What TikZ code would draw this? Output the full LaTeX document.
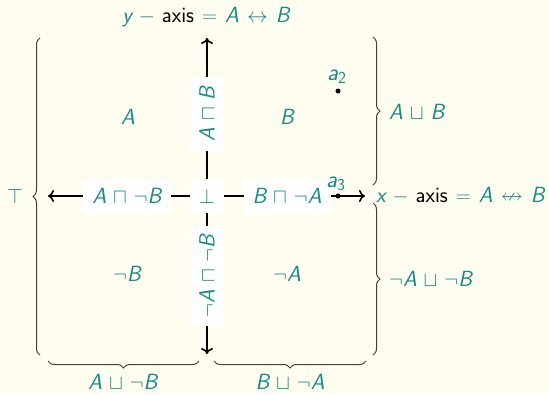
\documentclass[tikz,border=0pt]{standalone}
\usepackage{amsmath}
\usepackage{amssymb}
\usetikzlibrary{decorations.pathreplacing,arrows.meta,calc}
\definecolor{tealm}{RGB}{22,138,132}
\definecolor{cream}{RGB}{255,253,240}
\newcommand\sfit[1]{\text{\sffamily\slshape #1}}
\newcommand\mA{\sfit{A}}
\newcommand\mB{\sfit{B}}
\newcommand\blk[1]{\text{\color{black}\sffamily #1}}
\tikzset{
  every node/.style={font={\sffamily\fontsize{22}{26}\selectfont\medmuskip=6mu\thickmuskip=7mu}, text=tealm},
  lbl/.style={fill=white, inner xsep=9pt, minimum height=34pt},
  vlbl/.style={lbl, rotate=90},
  axisline/.style={line width=1.6pt, black, {Computer Modern Rightarrow[length=6pt,width=12pt]}-{Computer Modern Rightarrow[length=6pt,width=12pt]}},
  bracedec/.style={decorate, decoration={brace, amplitude=7pt}, line width=1pt, black!75},
  dot/.style={circle, fill=black, inner sep=0pt, minimum size=5pt},
  sublbl/.style={anchor=base west, inner sep=0pt, font={\sffamily\fontsize{24}{28}\selectfont}},
  westlbl/.style={anchor=west, inner sep=0pt}
}
\begin{document}
\begin{tikzpicture}[x=1pt,y=-1pt]
\fill[cream] (0,0) rectangle (549,394);
\path[use as bounding box] (0,0) rectangle (549,394);
% axes
\coordinate (L) at (48,196);
\coordinate (R) at (365,196);
\coordinate (T) at (207,38);
\coordinate (Bt) at (207,354);
\draw[axisline] (L) -- (R);
\draw[axisline] (T) -- (Bt);
% labels on axes
\node[lbl] (ln) at (127,196) {$\mA\sqcap\neg\mB$};
\node[lbl] (bot) at (207,196) {$\bot$};
\node[lbl] (rn) at (287,196) {$\mB\sqcap\neg\mA$};
\node[vlbl] (tn) at (207,114) {$\mA\sqcap\mB$};
\node[vlbl] (bn) at (207,276) {$\neg\mA\sqcap\neg\mB$};
% quadrants
\node (qA) at (128,117) {$\mA$};
\node (qB) at (287,117) {$\mB$};
\node (qnB) at (127,274) {$\neg\mB$};
\node (qnA) at (287,274) {$\neg\mA$};
% points
\node[dot] (a2) at (338,91) {};
\node[sublbl] (a2l) at ($(a2)+(-11,-11)$) {$\sfit{a}_{\text{\sffamily 2}}$};
\node[dot] (a3) at (338,196) {};
\node[sublbl] (a3l) at ($(a3)+(-12,-9)$) {$\sfit{a}_{\text{\sffamily 3}}$};
% braces
\draw[bracedec] (40,355) -- (40,38);
\draw[bracedec] (373,37) -- (373,185);
\draw[bracedec] (373,203) -- (373,355);
\draw[bracedec] (199,361) -- (48,361);
\draw[bracedec] (366,361) -- (214,361);
% brace labels
\node (topl) at (15,196) {$\top$};
\node[westlbl] (AorB) at (389,112) {$\mA\sqcup\mB$};
\node[westlbl] (nAornB) at (389,279) {$\neg\mA\sqcup\neg\mB$};
\node (AornB) at (123,382) {$\mA\sqcup\neg\mB$};
\node (BornA) at (290,382) {$\mB\sqcup\neg\mA$};
% axis titles
\node (ylab) at (206,17) {$\sfit{y}-\blk{axis}=\mA\leftrightarrow\mB$};
\node[westlbl] (xlab) at (376,196) {$\sfit{x}-\blk{axis}=\mA\nleftrightarrow\mB$};
\end{tikzpicture}
\end{document}
